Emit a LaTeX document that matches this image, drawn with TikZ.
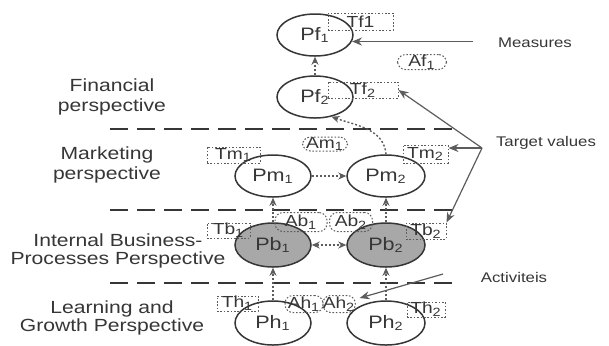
\documentclass[tikz,border=0pt]{standalone}
\usepackage{fontspec}
\setmainfont[FakeStretch=1.2]{Liberation Sans}
\usetikzlibrary{arrows.meta,shapes.geometric}
\definecolor{ink}{HTML}{363636}
\definecolor{linegray}{HTML}{5C5C5C}
\definecolor{procfill}{HTML}{A8A8A8}
\begin{document}
\begin{tikzpicture}[x=0.5pt,y=-0.5pt,
  persp/.style={ellipse, draw=ink, line width=0.75pt, minimum width=38pt,
    minimum height=21pt, inner sep=0pt, text=ink, font=\fontsize{9}{9}\selectfont},
  proc/.style={persp, fill=procfill, minimum height=22pt},
  target/.style={rectangle, draw=linegray, line width=0.5pt, dash pattern=on 0.8pt off 0.9pt,
    inner sep=0pt, text=ink, font=\fontsize{8}{8}\selectfont},
  activity/.style={rectangle, rounded corners=4pt, draw=linegray, line width=0.5pt,
    dash pattern=on 0.8pt off 0.9pt, inner sep=0pt, text=ink, font=\fontsize{8}{8}\selectfont},
  flow/.style={draw=linegray, line width=0.7pt, dash pattern=on 1pt off 1pt,
    -{Stealth[length=4pt,width=3.5pt]}},
  pointer/.style={draw=linegray, line width=0.6pt, {Stealth[length=5pt,width=4pt]}-},
  divider/.style={draw=ink, line width=0.8pt, dash pattern=on 9pt off 4.5pt},
  persplabel/.style={align=center, text=ink},
  sidelabel/.style={text=ink, font=\fontsize{7}{7}\selectfont}]
\useasboundingbox (0,0) rectangle (609,345);

% perspective dividers
\draw[divider] (110,129) -- (458,129);
\draw[divider] (110,210) -- (458,210);
\draw[divider] (110,283) -- (458,283);

% perspective names
\node[persplabel, font=\fontsize{8.8}{10}\selectfont] (fin) at (112,97) {Financial\\perspective};
\node[persplabel, font=\fontsize{8.8}{10}\selectfont] (mkt) at (107,165) {Marketing\\perspective};
\node[persplabel, font=\fontsize{8.8}{8.8}\selectfont] (ibp) at (118,251) {Internal Business-\\Processes Perspective};
\node[persplabel, font=\fontsize{8.8}{9}\selectfont] (lgp) at (112,318) {Learning and\\Growth Perspective};

% measures
\node[persp] (pf1) at (315,35) {Pf\textsubscript{1}};
\node[persp] (pf2) at (315,97) {Pf\textsubscript{2}};
\node[persp] (pm1) at (273,176) {Pm\textsubscript{1}};
\node[persp, minimum width=39pt] (pm2) at (386,176) {Pm\textsubscript{2}};
\node[proc] (pb1) at (273,245) {Pb\textsubscript{1}};
\node[proc, minimum width=39pt] (pb2) at (386,245) {Pb\textsubscript{2}};
\node[persp, minimum height=22pt] (ph1) at (273,323) {Ph\textsubscript{1}};
\node[persp, minimum width=39pt, minimum height=22pt] (ph2) at (386,323) {Ph\textsubscript{2}};

% target values
\node[target, minimum width=32.5pt, minimum height=8.5pt] (tf1) at (360.5,21.5) {Tf1};
\node[target, minimum width=35pt, minimum height=8pt] (tf2) at (363,90) {Tf\textsubscript{2}};
\node[target, minimum width=26.5pt, minimum height=8pt] (tm1) at (233.5,155) {Tm\textsubscript{1}};
\node[target, minimum width=22.5pt, minimum height=9pt] (tm2) at (425.5,154) {Tm\textsubscript{2}};
\node[target, minimum width=21.5pt, minimum height=7.5pt] (tb1) at (228.5,230.5) {Tb\textsubscript{1}};
\node[target, minimum width=20pt, minimum height=8pt] (tb2) at (426,231) {Tb\textsubscript{2}};
\node[target, minimum width=20.5pt, minimum height=7.5pt] (th1) at (237.5,303.5) {Th\textsubscript{1}};
\node[target, minimum width=19pt, minimum height=7.5pt] (th2) at (426,309.5) {Th\textsubscript{2}};

% activities
\node[activity, minimum width=24.5pt, minimum height=7.5pt] (af1) at (422,62) {Af\textsubscript{1}};
\node[activity, minimum width=22.5pt, minimum height=7pt] (am1) at (325,144) {Am\textsubscript{1}};
\node[activity, minimum width=26pt, minimum height=9.5pt] (ab1) at (301,222) {Ab\textsubscript{1}};
\node[activity, minimum width=21.5pt, minimum height=9.5pt] (ab2) at (351,222) {Ab\textsubscript{2}};
\node[activity, minimum width=19pt, minimum height=8.5pt] (ah1) at (304,304) {Ah\textsubscript{1}};
\node[activity, minimum width=15pt, minimum height=8.5pt] (ah2) at (339,304) {Ah\textsubscript{2}};

% cause-and-effect links
\draw[flow] (pf2) -- (pf1);
\draw[flow] (pm2.north) to[out=95,in=-20] (pf2.-50);
\draw[flow] (pm1) -- (pm2);
\draw[flow] (pb1) -- (pm1);
\draw[flow] (pb2) -- (pm2);
\draw[flow, {Stealth[length=4pt,width=3.5pt]}-{Stealth[length=4pt,width=3.5pt]}] (pb1) -- (pb2);
\draw[flow] (ph1) -- (pb1);
\draw[flow] (ph2) -- (pb2);

% side annotations
\node[sidelabel] (measures) at (535,43) {Measures};
\node[sidelabel] (targets) at (546,143) {Target values};
\node[sidelabel] (acts) at (514,277) {Activiteis};
\coordinate (tv) at (482,148);
\coordinate (av) at (443,274);

\draw[pointer] (pf1.-10) -- ++(121,0);
\draw[pointer] (tf2.east) -- (tv);
\draw[pointer] (tm2.east |- tv) -- (tv);
\draw[pointer] (tb2.north east) -- (tv);
\draw[pointer, shorten <=2pt] (ah2) -- (av);
\end{tikzpicture}
\end{document}
